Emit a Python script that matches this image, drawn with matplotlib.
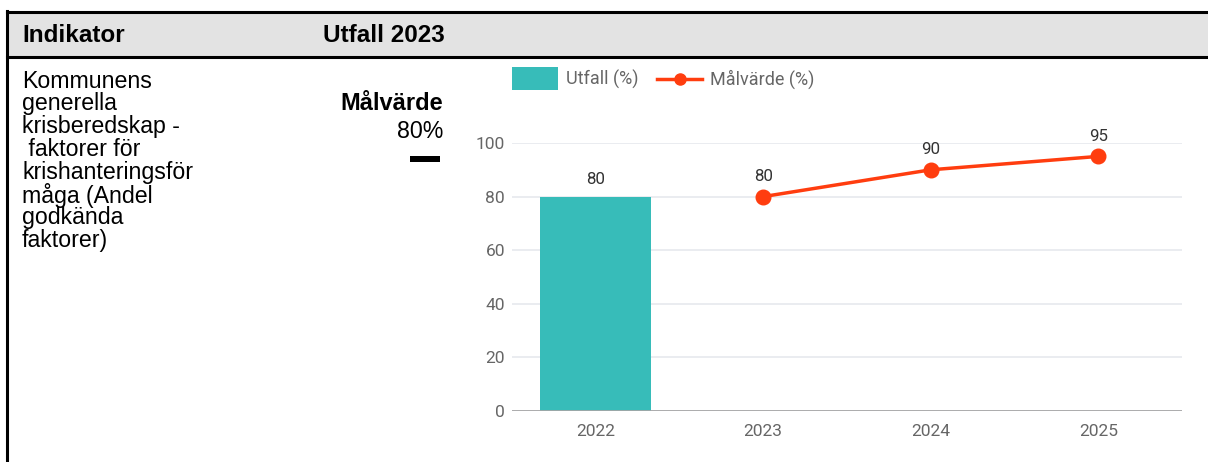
import matplotlib
matplotlib.use("Agg")
import matplotlib.pyplot as plt
from matplotlib.patches import Rectangle
from matplotlib.lines import Line2D

years = ["2022", "2023", "2024", "2025"]
utfall = [80, None, None, None]
malvarde = [None, 80, 90, 95]
yticks = [0, 20, 40, 60, 80, 100]

W, H = 1208, 462
fig = plt.figure(figsize=(W / 100, H / 100), dpi=100)
fig.patch.set_facecolor("white")

def fx(px):
    return px / W

def fy(py):
    return 1 - py / H

# table structure
fig.patches.append(Rectangle((fx(7), fy(57)), fx(1208) - fx(7), fy(12) - fy(57),
                             transform=fig.transFigure, facecolor="#e3e3e3", edgecolor="none", zorder=0))
fig.lines.append(Line2D([fx(7), 1], [fy(12), fy(12)], transform=fig.transFigure, color="black", lw=2.2))
fig.lines.append(Line2D([fx(7), 1], [fy(57), fy(57)], transform=fig.transFigure, color="black", lw=2.2))
fig.lines.append(Line2D([fx(7.5), fx(7.5)], [fy(11), 0], transform=fig.transFigure, color="black", lw=2.2))

tfont = ["Liberation Sans", "DejaVu Sans"]
fig.text(fx(22), fy(35), "Indikator", fontsize=17.5, fontweight="bold", family=tfont, va="center", ha="left")
fig.text(fx(323), fy(35), "Utfall 2023", fontsize=17.5, fontweight="bold", family=tfont, va="center", ha="left")

lines_txt = ["Kommunens", "generella", "krisberedskap -", " faktorer för",
             "krishanteringsför", "måga (Andel", "godkända", "faktorer)"]
for i, t in enumerate(lines_txt):
    fig.text(fx(22), fy(81 + i * 22.8), t, fontsize=16.7, family=tfont, va="center", ha="left")

fig.text(fx(443), fy(104), "Målvärde", fontsize=17, fontweight="bold", family=tfont, va="center", ha="right")
fig.text(fx(443), fy(131), "80%", fontsize=16.7, family=tfont, va="center", ha="right")
fig.patches.append(Rectangle((fx(410), fy(162)), fx(440) - fx(410), fy(156) - fy(162),
                             transform=fig.transFigure, facecolor="black", edgecolor="none"))

# chart
ax = fig.add_axes([fx(512), fy(411), fx(1182) - fx(512), fy(143) - fy(411)])
cfont = ["Roboto", "DejaVu Sans"]
teal = "#37bcb9"
red = "#ff3d0f"
x = list(range(len(years)))

bx = [i for i, v in enumerate(utfall) if v is not None]
bv = [v for v in utfall if v is not None]
ax.bar(bx, bv, width=0.665, color=teal, zorder=2)
for i, v in zip(bx, bv):
    ax.annotate(f"{v}", (i, v), xytext=(0, 7), textcoords="offset points", ha="center", va="bottom",
                fontsize=12.2, color="#333333", family=cfont)

lx = [i for i, v in enumerate(malvarde) if v is not None]
lv = [v for v in malvarde if v is not None]
ax.plot(lx, lv, color=red, lw=2.5, marker="o", markersize=10.5, zorder=3, clip_on=False)
for i, v in zip(lx, lv):
    ax.annotate(f"{v}", (i, v), xytext=(0, 9), textcoords="offset points", ha="center", va="bottom",
                fontsize=12.2, color="#333333", family=cfont)

ax.set_xlim(-0.5, 3.5)
ax.set_ylim(0, 100)
ax.set_yticks(yticks)
ax.set_xticks(x)
ax.set_xticklabels(years)
for s in ax.spines.values():
    s.set_visible(False)
ax.grid(axis="y", color="#e6e9ee", lw=1.2, zorder=0)
ax.grid(axis="x", visible=False)
ax.axhline(0, color="#a6a6a6", lw=2, zorder=4)
ax.tick_params(axis="both", length=0, labelsize=12.5, labelcolor="#666666")
ax.tick_params(axis="y", pad=5)
ax.tick_params(axis="x", pad=9)
for lab in ax.get_xticklabels() + ax.get_yticklabels():
    lab.set_family(cfont)
ax.set_facecolor("none")

# legend
fig.patches.append(Rectangle((fx(512), fy(90)), fx(558) - fx(512), fy(67) - fy(90),
                             transform=fig.transFigure, facecolor=teal, edgecolor="none"))
fig.text(fx(566), fy(79), "Utfall (%)", fontsize=13, color="#666666", family=cfont, va="center", ha="left")
fig.lines.append(Line2D([fx(657), fx(702)], [fy(79), fy(79)], transform=fig.transFigure, color=red, lw=2.5))
fig.lines.append(Line2D([fx(679.5)], [fy(79)], transform=fig.transFigure, color=red, marker="o", markersize=8))
fig.text(fx(710), fy(79), "Målvärde (%)", fontsize=13, color="#666666", family=cfont, va="center", ha="left")

fig.savefig("out.png", dpi=100)
